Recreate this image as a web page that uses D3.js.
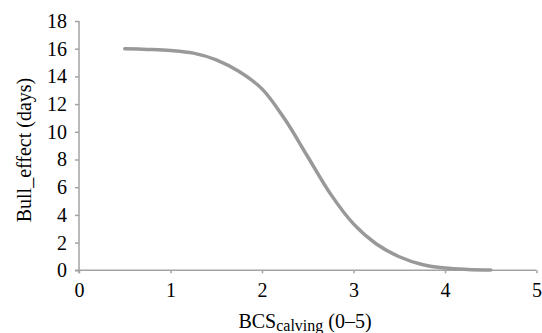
<!DOCTYPE html>
<html>
<head>
<meta charset="utf-8">
<script src="https://cdn.jsdelivr.net/npm/d3@7"></script>
<style>
  body { margin: 0; background: #fff; }
</style>
</head>
<body>
<svg id="chart" width="542" height="333"></svg>
<script>
// BCS at calving vs bull effect (days)
const bcsValues = [0.5, 0.75, 1.0, 1.25, 1.5, 1.75, 2.0, 2.25, 2.5, 2.75, 3.0, 3.25, 3.5, 3.75, 4.0, 4.25, 4.5];
const bullEffect = [16.0, 15.95, 15.87, 15.68, 15.2, 14.35, 13.1, 10.9, 8.2, 5.5, 3.35, 1.9, 0.98, 0.42, 0.16, 0.06, 0.02];
const xTicks = [0, 1, 2, 3, 4, 5];
const yTicks = [0, 2, 4, 6, 8, 10, 12, 14, 16, 18];

const FONT = '"Times New Roman", "Liberation Serif", Tinos, "DejaVu Serif", serif';

const svg = d3.select("#chart").attr("font-family", FONT);
const margin = { left: 79, right: 5.5, top: 21, bottom: 62.7 };
const width = 542, height = 333;

const x = d3.scaleLinear().domain([0, 5]).range([margin.left, width - margin.right]);
const y = d3.scaleLinear().domain([0, 18]).range([height - margin.bottom, margin.top]);

const axisColor = "#a3a3a3";

// y axis
const yAxis = svg.append("g")
  .attr("transform", `translate(${margin.left},0)`)
  .call(d3.axisLeft(y).tickValues(yTicks).tickFormat(d3.format("d")).tickSize(4).tickPadding(8));
yAxis.select(".domain").attr("stroke", axisColor).attr("stroke-width", 1.5)
  .attr("d", `M0,${y(18)}V${y(0) + 3}`);

// x axis
const xAxis = svg.append("g")
  .attr("transform", `translate(0,${y(0)})`)
  .call(d3.axisBottom(x).tickValues(xTicks).tickFormat(d3.format("d")).tickSize(3).tickPadding(10));
xAxis.select(".domain").attr("stroke", axisColor).attr("stroke-width", 1.5)
  .attr("d", `M${x(0) - 4},0H${x(5)}`);

svg.selectAll(".tick line").attr("stroke", axisColor).attr("stroke-width", 1.5);
svg.selectAll("g").attr("font-family", FONT);
svg.selectAll(".tick text").attr("font-size", 20).attr("fill", "#000");

// curve
const line = d3.line()
  .x((d, i) => x(bcsValues[i]))
  .y(d => y(d))
  .curve(d3.curveCatmullRom.alpha(0.5));

svg.append("path")
  .datum(bullEffect)
  .attr("d", line)
  .attr("fill", "none")
  .attr("stroke", "#999999")
  .attr("stroke-width", 3.5)
  .attr("stroke-linecap", "round");

// axis titles
svg.append("text")
  .attr("transform", `translate(31,150) rotate(-90)`)
  .attr("text-anchor", "middle")
  .attr("font-size", 20)
  .text("Bull_effect (days)");

const xTitle = svg.append("text")
  .attr("x", 305)
  .attr("y", 328)
  .attr("text-anchor", "middle")
  .attr("font-size", 20);
xTitle.append("tspan").text("BCS");
xTitle.append("tspan").attr("dy", 3).attr("font-size", 16).text("calving");
xTitle.append("tspan").attr("dy", -3).text(" (0–5)");
</script>
</body>
</html>
